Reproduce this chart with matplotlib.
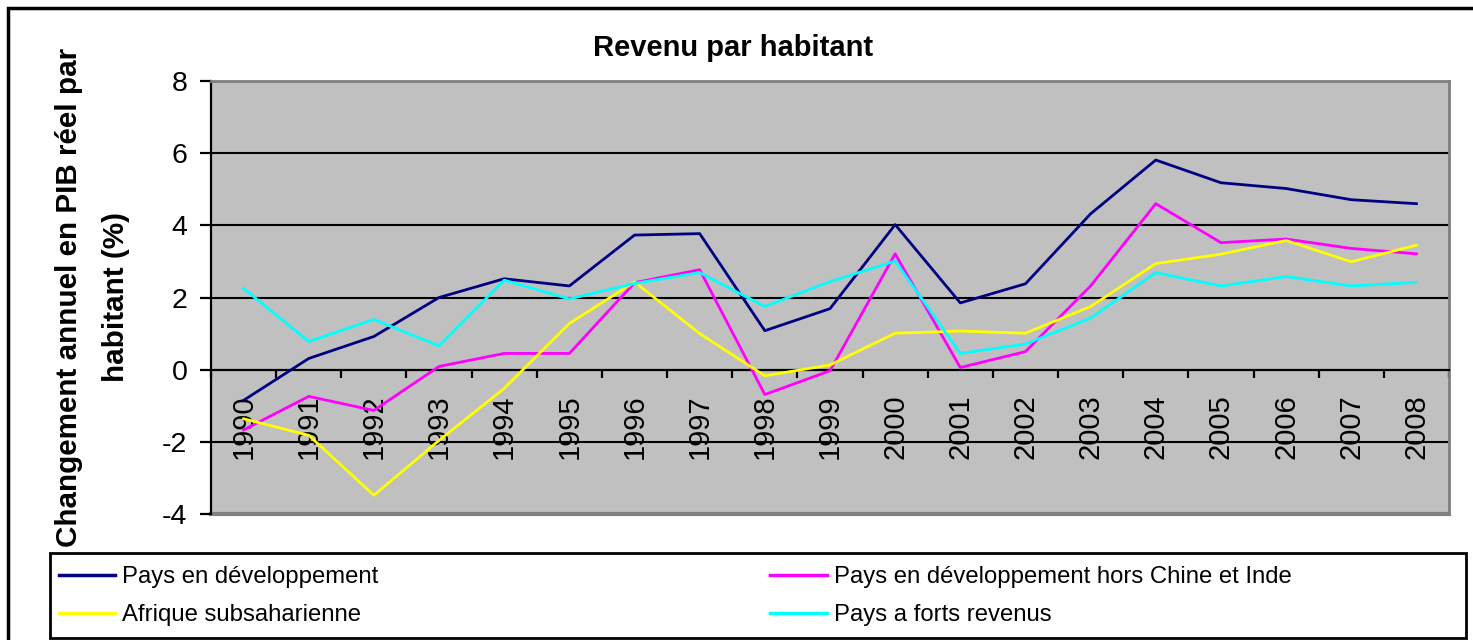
import matplotlib
matplotlib.use("Agg")
import matplotlib.pyplot as plt
from matplotlib.patches import Rectangle

plt.rcParams['font.family'] = ['Liberation Sans', 'DejaVu Sans']

# annees (categories de l'axe x)
years = [str(y) for y in range(1990, 2009)]

# variation annuelle du PIB reel par habitant (%)
pays_dev = [-0.85, 0.31, 0.92, 2.0, 2.52, 2.32, 3.73, 3.77, 1.08, 1.69,
            4.02, 1.85, 2.38, 4.32, 5.81, 5.18, 5.02, 4.71, 4.6]
pays_dev_hors_ci = [-1.67, -0.74, -1.13, 0.09, 0.45, 0.45, 2.41, 2.77, -0.69, -0.03,
                    3.21, 0.06, 0.5, 2.32, 4.6, 3.52, 3.62, 3.36, 3.21]
afrique_ss = [-1.36, -1.82, -3.48, -1.96, -0.52, 1.28, 2.43, 1.0, -0.17, 0.13,
              1.01, 1.07, 1.01, 1.75, 2.94, 3.2, 3.58, 2.99, 3.45]
forts_revenus = [2.25, 0.78, 1.39, 0.66, 2.48, 1.96, 2.39, 2.69, 1.75, 2.44,
                 3.01, 0.45, 0.71, 1.43, 2.69, 2.32, 2.58, 2.32, 2.42]

labels = ['Pays en développement', 'Pays en développement hors Chine et Inde',
          'Afrique subsaharienne', 'Pays a forts revenus']
colors = ['#000080', '#FF00FF', '#FFFF00', '#00FFFF']
yticks = [-4, -2, 0, 2, 4, 6, 8]

W, H = 1473, 640
fig = plt.figure(figsize=(W / 100, H / 100), dpi=100)
ax = fig.add_axes([211 / W, 1 - 514 / H, (1449 - 211) / W, (514 - 81) / H])
ax.set_facecolor('#C0C0C0')

x = list(range(len(years)))
series = [pays_dev, pays_dev_hors_ci, afrique_ss, forts_revenus]
lines = []
for s, c, lab in zip(series, colors, labels):
    ln, = ax.plot(x, s, color=c, lw=2.0, label=lab, zorder=3)
    lines.append(ln)

ax.set_xlim(-0.5, len(years) - 0.5)
ax.set_ylim(-4, 8)
ax.set_yticks(yticks)
ax.set_yticklabels([str(v) for v in yticks], fontsize=20.5)
for v in yticks[1:-1]:
    if v != 0:
        ax.axhline(v, color='black', lw=1.5, zorder=1)

# cadre
for side in ['top', 'right']:
    ax.spines[side].set_color('#808080')
    ax.spines[side].set_linewidth(2)
ax.spines['left'].set_color('black')
ax.spines['left'].set_linewidth(1.6)
ax.spines['bottom'].set_position(('data', 0))
ax.spines['bottom'].set_color('black')
ax.spines['bottom'].set_linewidth(1.6)
ax.axhline(-4, color='#808080', lw=3, clip_on=False, zorder=0)

ax.tick_params(axis='y', direction='out', length=8, width=1.6, pad=9)
ax.set_xticks(x)
ax.set_xticklabels(years, rotation=90, fontsize=21, va='top')
ax.tick_params(axis='x', which='major', length=0, pad=18)
ax.set_xticks([i - 0.5 for i in range(len(years) + 1)], minor=True)
ax.tick_params(axis='x', which='minor', direction='out', length=6, width=1.6)

ax.set_ylabel('Changement annuel en PIB réel par\nhabitant (%)', fontsize=21.3,
              fontweight='bold', labelpad=23, linespacing=1.85)

fig.text(733 / W, 1 - 48 / H, 'Revenu par habitant', fontsize=21,
         fontweight='bold', ha='center', va='center')

# legende
fig.patches.append(Rectangle((50 / W, 1 - 638 / H), (1466 - 50) / W, (638 - 553) / H,
                             transform=fig.transFigure, fill=False,
                             edgecolor='black', lw=2, zorder=5))
handles = [lines[0], lines[2], lines[1], lines[3]]
leg = fig.legend(handles, [h.get_label() for h in handles], ncol=2,
                 loc='upper left', bbox_to_anchor=(52 / W, 1 - 559 / H),
                 fontsize=17.2, frameon=False, handlelength=2.35,
                 handletextpad=0.3, borderaxespad=0, labelspacing=0.68,
                 borderpad=0.3, columnspacing=16.4)
for ln in leg.get_lines():
    ln.set_linewidth(2.5)

# bordure du graphique
fig.patches.append(Rectangle((8 / W, -0.02), 1.05, 1 - 8 / H + 0.02,
                             transform=fig.transFigure, fill=False,
                             edgecolor='black', lw=2.5, clip_on=False))

fig.savefig('out.png', dpi=100)
